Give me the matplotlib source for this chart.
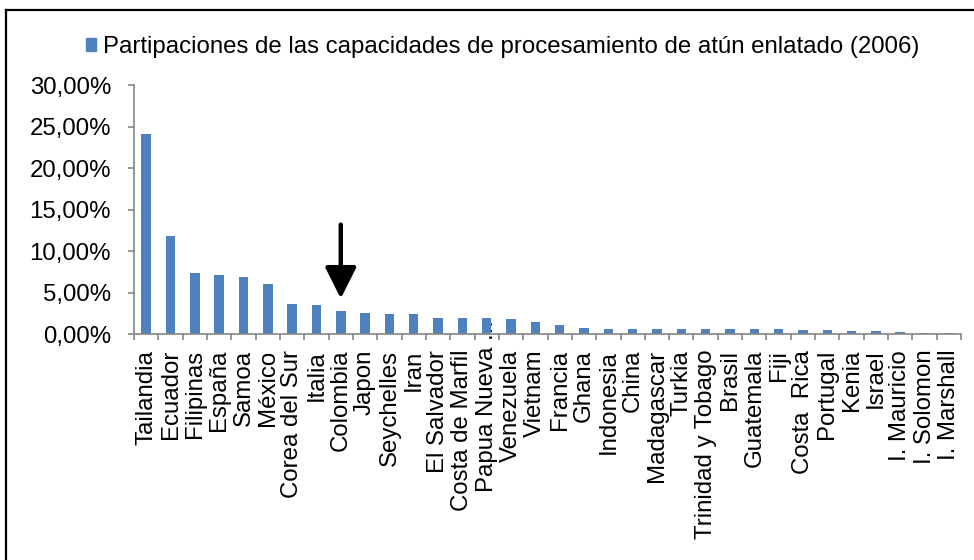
import matplotlib
matplotlib.use("Agg")
import matplotlib.pyplot as plt
from matplotlib.patches import Patch
from matplotlib.lines import Line2D
from matplotlib.ticker import FixedLocator, FuncFormatter
from matplotlib.transforms import ScaledTranslation

plt.rcParams.update({
    "font.family": ["Liberation Sans", "DejaVu Sans"],
    "font.size": 17.3,
})

BLUE, AXIS = "#4f81bd", "#868686"

countries = [
    "Tailandia", "Ecuador", "Filipinas", "España", "Samoa", "México",
    "Corea del Sur", "Italia", "Colombia", "Japon", "Seychelles", "Iran",
    "El Salvador", "Costa de Marfil", "Papua Nueva ...", "Venezuela",
    "Vietnam", "Francia", "Ghana", "Indonesia", "China", "Madagascar",
    "Turkia", "Trinidad y Tobago", "Brasil", "Guatemala", "Fiji",
    "Costa  Rica", "Portugal", "Kenia", "Israel", "I. Mauricio",
    "I. Solomon", "I. Marshall",
]
share = [  # % of canned tuna processing capacity
    24.06, 11.87, 7.39, 7.19, 6.95, 6.07, 3.63, 3.55, 2.82, 2.55, 2.47,
    2.47, 1.98, 1.98, 1.98, 1.88, 1.48, 1.18, 0.82, 0.66, 0.66, 0.66,
    0.66, 0.66, 0.66, 0.62, 0.62, 0.58, 0.58, 0.42, 0.38, 0.30, 0.15,
    0.15,
]
yticks = [0, 5, 10, 15, 20, 25, 30]
legend_label = "Partipaciones de las capacidades de procesamiento de atún enlatado (2006)"
highlight = "Colombia"

fig = plt.figure(figsize=(9.74, 5.6), dpi=100)
ax = fig.add_axes([0.1376, 0.4027, 0.8491, 0.4453])

x = list(range(len(countries)))
ax.bar(x, share, width=0.39, color=BLUE, zorder=2)

ax.set_xlim(-0.5, len(countries) - 0.5)
ax.set_ylim(0, 30)
ax.set_yticks(yticks)
ax.yaxis.set_major_formatter(FuncFormatter(lambda v, _: f"{v:.2f}%".replace(".", ",")))

ax.set_xticks(x)
ax.set_xticklabels(countries, rotation=90, va="top", ha="center")
ax.xaxis.set_minor_locator(FixedLocator([i - 0.5 for i in range(len(countries) + 1)]))
ax.tick_params(axis="x", which="major", length=0, pad=11)
ax.tick_params(axis="x", which="minor", length=4.5, color=AXIS, width=1.2)
ax.tick_params(axis="y", length=4.5, color=AXIS, width=1.2, pad=12)

for s in ("top", "right"):
    ax.spines[s].set_visible(False)
for s in ("left", "bottom"):
    ax.spines[s].set_color(AXIS)
    ax.spines[s].set_linewidth(1.2)

# the truncated label sits a bit higher, its dots poke above the axis
lbl = ax.get_xticklabels()[countries.index("Papua Nueva ...")]
lbl.set_transform(lbl.get_transform() + ScaledTranslation(0, 0.3, fig.dpi_scale_trans))

# arrow pointing at Colombia
ci = countries.index(highlight)
ax.annotate("", xy=(ci, share[ci] + 1.5), xytext=(ci, share[ci] + 10.4),
            arrowprops=dict(arrowstyle="-|>,head_length=1.1,head_width=0.55",
                            color="black", lw=3.2, shrinkA=0, shrinkB=0),
            zorder=5)

fig.legend(handles=[Patch(color=BLUE)], labels=[legend_label],
           loc="center", bbox_to_anchor=(0.516, 0.916), frameon=False,
           handlelength=0.42, handleheight=0.42, handletextpad=0.3,
           fontsize=17.3)

# frame edges of the cropped screenshot
fig.add_artist(Line2D([0.0062, 0.0062], [0, 0.982], color="black", lw=1.6,
                      transform=fig.transFigure))
fig.add_artist(Line2D([0.0062, 1], [0.982, 0.982], color="black", lw=1.6,
                      transform=fig.transFigure))

fig.savefig("out.png", dpi=100, facecolor="white")
